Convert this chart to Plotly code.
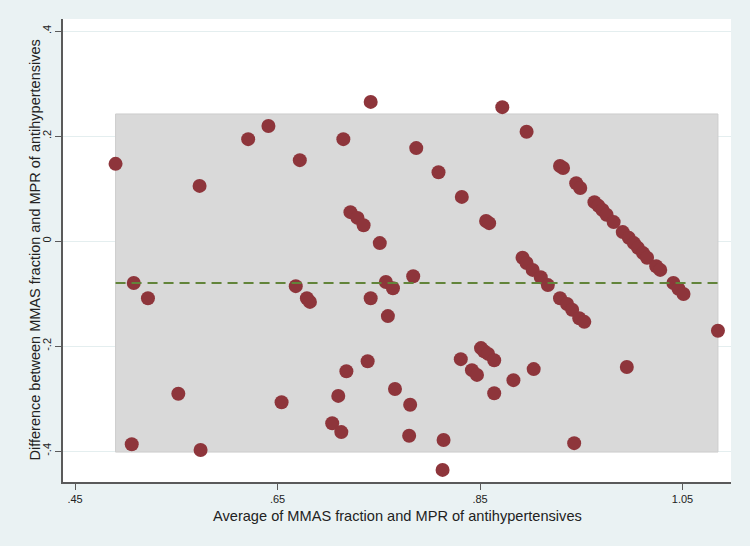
import plotly.graph_objects as go

# Average of MMAS fraction and MPR (x) and their difference (y)
avg_vals = [0.490, 0.508, 0.506, 0.522, 0.552, 0.573, 0.574, 0.621, 0.641, 0.654,
            0.668, 0.672, 0.679, 0.682, 0.704, 0.710, 0.713, 0.715, 0.718, 0.722,
            0.729, 0.735, 0.739, 0.742, 0.742, 0.751, 0.757, 0.759, 0.764, 0.766,
            0.780, 0.781, 0.784, 0.787, 0.809, 0.813, 0.814, 0.831, 0.832, 0.842,
            0.847, 0.851, 0.854, 0.856, 0.859, 0.858, 0.864, 0.864, 0.872, 0.883,
            0.892, 0.896, 0.902, 0.903, 0.896, 0.910, 0.917, 0.929, 0.932, 0.929,
            0.936, 0.941, 0.943, 0.945, 0.949, 0.948, 0.953, 0.963, 0.967, 0.971,
            0.975, 0.982, 0.991, 0.995, 0.997, 1.002, 1.006, 1.011, 1.015, 1.024,
            1.028, 1.041, 1.046, 1.051, 1.085]
diff_vals = [0.147, -0.080, -0.387, -0.109, -0.291, 0.105, -0.398, 0.194, 0.219, -0.307,
             -0.086, 0.154, -0.109, -0.116, -0.347, -0.295, -0.364, 0.194, -0.248, 0.055,
             0.044, 0.030, -0.229, 0.265, -0.109, -0.004, -0.078, -0.143, -0.090, -0.282,
             -0.371, -0.312, -0.067, 0.177, 0.131, -0.436, -0.379, -0.225, 0.084, -0.246,
             -0.255, -0.204, -0.210, 0.038, 0.034, -0.215, -0.227, -0.290, 0.255, -0.265,
             -0.032, -0.042, -0.055, -0.244, 0.208, -0.069, -0.084, 0.143, 0.139, -0.109,
             -0.120, -0.131, -0.385, 0.110, 0.101, -0.147, -0.154, 0.074, 0.067, 0.059,
             0.050, 0.036, 0.017, -0.240, 0.006, -0.004, -0.013, -0.023, -0.032, -0.048,
             -0.055, -0.080, -0.091, -0.101, -0.171]

mean_diff = -0.080
loa_upper = 0.242
loa_lower = -0.402

x_tickvals = [0.45, 0.65, 0.85, 1.05]
x_ticktext = [".45", ".65", ".85", "1.05"]
y_tickvals = [-0.4, -0.2, 0.0, 0.2, 0.4]
y_ticktext = ["-.4", "-.2", "0", ".2", ".4"]

x_title = "Average of MMAS fraction and MPR of antihypertensives"
y_title = "Difference between MMAS fraction and MPR of antihypertensives"

xmin, xmax = min(avg_vals), max(avg_vals)

fig = go.Figure()
fig.add_trace(go.Scatter(
    x=avg_vals, y=diff_vals, mode="markers",
    marker=dict(color="#8e353b", size=14, line=dict(width=0)),
    showlegend=False, hoverinfo="x+y"))
fig.add_trace(go.Scatter(
    x=[xmin, xmax], y=[mean_diff, mean_diff], mode="lines",
    line=dict(color="#62843a", width=2, dash="10px,6px"),
    showlegend=False, hoverinfo="skip"))

fig.add_shape(type="rect", xref="x", yref="y",
              x0=xmin, x1=xmax, y0=loa_lower, y1=loa_upper,
              fillcolor="#d9d9d9", line=dict(color="#cdcdcd", width=1),
              layer="between")

# axis titles placed as annotations (Stata-like positions)
fig.add_annotation(text=x_title, xref="paper", yref="paper", x=0.5, y=0,
                   yshift=-34, xanchor="center", yanchor="middle", showarrow=False,
                   font=dict(size=14.6, color="#222222"))
fig.add_annotation(text=y_title, xref="paper", yref="paper", x=0, y=0.5,
                   xshift=-29, xanchor="center", yanchor="middle", showarrow=False,
                   textangle=-90, font=dict(size=14.5, color="#222222"))

fig.update_layout(
    width=750, height=546,
    margin=dict(l=63, r=19, t=19, b=64),
    paper_bgcolor="#eaf2f3",
    plot_bgcolor="#ffffff",
    font=dict(family="Liberation Sans, Arial, sans-serif", color="#222222"),
    xaxis=dict(
        range=[0.4381, 1.0979], tickvals=x_tickvals, ticktext=x_ticktext,
        showgrid=False, zeroline=False, showline=True, linecolor="#5a5a5a",
        linewidth=1.5, ticks="outside", ticklen=6, tickcolor="#5a5a5a",
        tickfont=dict(size=11), automargin=False),
    yaxis=dict(
        range=[-0.459, 0.4229], tickvals=y_tickvals, ticktext=y_ticktext,
        showgrid=True, gridcolor="#e4eeef", gridwidth=1, zeroline=False,
        showline=True, linecolor="#5a5a5a", linewidth=1.5, ticks="outside",
        ticklen=6, tickcolor="#5a5a5a", tickangle=-90,
        tickfont=dict(size=11), automargin=False),
)

fig.write_html("out.html",
               config={"displayModeBar": False},
               post_script="document.body.style.margin='0';document.body.style.overflow='hidden';")
